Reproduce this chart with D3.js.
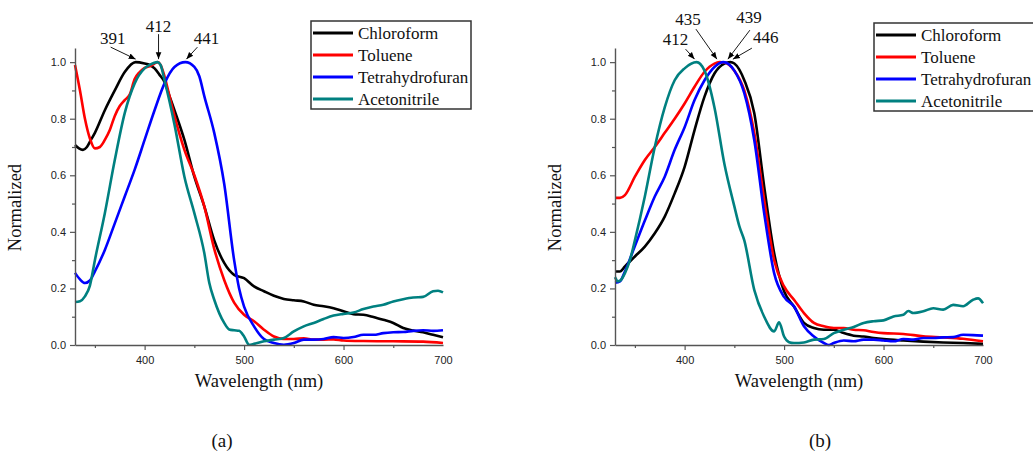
<!DOCTYPE html>
<html lang="en">
<head>
  <meta charset="UTF-8">
  <title>Normalized spectra</title>
  <script src="https://d3js.org/d3.v7.min.js"></script>
  <style>
    body {
      margin: 0;
      background-color: #ffffff;
    }
    svg {
      display: block;
    }
    .tick-label {
      font-family: "Liberation Sans", Arial, sans-serif;
      font-size: 11px;
      fill: #222;
    }
    .serif {
      font-family: "Liberation Serif", "Times New Roman", serif;
      fill: #111;
    }
  </style>
</head>
<body>
  <div id="chart"></div>

  <script>
    // series names + colours
    const seriesNames = ['Chloroform', 'Toluene', 'Tetrahydrofuran', 'Acetonitrile'];
    const seriesColors = ['#000000', '#ff0000', '#0000ff', '#008080'];

    const xTicks = [400, 500, 600, 700];
    const xMinorTicks = [350, 450, 550, 650];
    const yTicks = [0, 0.2, 0.4, 0.6, 0.8, 1.0];
    const yMinorTicks = [0.1, 0.3, 0.5, 0.7, 0.9];

    // panel (a) - [wavelength, normalized]
    const chloroformA = [[330,0.707],[334,0.695],[338,0.69],[342,0.7],[346,0.725],[350,0.75],[360,0.83],[370,0.9],[380,0.965],[391,1.0],[400,0.995],[405,0.99],[410,0.978],[415,0.955],[420,0.93],[425,0.88],[430,0.83],[440,0.725],[450,0.595],[460,0.49],[470,0.37],[480,0.29],[490,0.248],[500,0.236],[510,0.207],[520,0.19],[530,0.174],[540,0.163],[550,0.158],[560,0.154],[570,0.142],[580,0.137],[590,0.13],[600,0.119],[610,0.109],[620,0.107],[630,0.099],[640,0.089],[650,0.078],[660,0.06],[670,0.051],[680,0.045],[690,0.036],[700,0.027]];
    const tolueneA = [[330,0.99],[335,0.9],[340,0.8],[345,0.73],[350,0.695],[355,0.7],[360,0.725],[365,0.76],[370,0.81],[375,0.845],[380,0.866],[385,0.885],[390,0.94],[395,0.965],[400,0.98],[405,0.985],[410,0.995],[413,1.0],[416,0.99],[420,0.95],[425,0.88],[430,0.81],[440,0.69],[450,0.6],[460,0.49],[470,0.34],[480,0.23],[490,0.15],[500,0.107],[510,0.084],[520,0.054],[530,0.03],[540,0.021],[550,0.021],[560,0.024],[570,0.019],[580,0.019],[590,0.02],[600,0.016],[620,0.014],[650,0.013],[680,0.012],[700,0.007]];
    const thfA = [[330,0.255],[335,0.232],[340,0.219],[345,0.228],[350,0.26],[360,0.336],[370,0.43],[380,0.525],[390,0.62],[400,0.725],[410,0.83],[420,0.925],[430,0.983],[441,1.0],[450,0.983],[455,0.95],[460,0.88],[470,0.75],[480,0.57],[490,0.3],[495,0.2],[500,0.136],[510,0.066],[520,0.021],[530,0.007],[540,0.001],[550,0.007],[560,0.019],[570,0.019],[580,0.021],[590,0.028],[600,0.025],[610,0.028],[620,0.036],[630,0.036],[640,0.042],[650,0.045],[660,0.046],[670,0.05],[680,0.052],[690,0.05],[700,0.052]];
    const acnA = [[330,0.152],[335,0.155],[340,0.172],[345,0.21],[350,0.3],[360,0.466],[370,0.654],[380,0.82],[390,0.925],[400,0.978],[405,0.99],[413,1.0],[416,0.99],[420,0.936],[430,0.78],[440,0.595],[450,0.466],[460,0.325],[465,0.22],[470,0.16],[480,0.078],[485,0.055],[490,0.052],[495,0.05],[500,0.03],[505,0.001],[510,0.004],[520,0.013],[530,0.019],[540,0.025],[550,0.048],[560,0.066],[570,0.078],[580,0.092],[590,0.104],[600,0.11],[610,0.115],[620,0.127],[630,0.136],[640,0.142],[650,0.154],[660,0.162],[670,0.168],[680,0.17],[690,0.19],[695,0.192],[700,0.186]];

    // panel (b)
    const chloroformB = [[330,0.26],[335,0.26],[340,0.278],[350,0.313],[360,0.348],[370,0.395],[380,0.454],[390,0.536],[400,0.63],[410,0.76],[420,0.878],[430,0.96],[440,0.995],[446,1.0],[450,0.995],[460,0.936],[470,0.82],[480,0.56],[490,0.325],[500,0.19],[510,0.136],[520,0.078],[530,0.06],[540,0.054],[550,0.054],[560,0.042],[570,0.033],[580,0.03],[590,0.025],[600,0.021],[620,0.016],[640,0.012],[660,0.009],[680,0.007],[700,0.004]];
    const tolueneB = [[330,0.52],[335,0.52],[340,0.53],[350,0.595],[360,0.654],[370,0.7],[380,0.75],[390,0.8],[400,0.854],[410,0.913],[420,0.966],[430,0.995],[435,1.0],[440,0.999],[450,0.97],[460,0.9],[470,0.75],[480,0.513],[490,0.3],[500,0.207],[510,0.16],[520,0.113],[530,0.078],[540,0.066],[550,0.06],[560,0.06],[570,0.054],[580,0.052],[590,0.046],[600,0.042],[620,0.039],[640,0.031],[660,0.027],[680,0.022],[700,0.013]];
    const thfB = [[330,0.22],[335,0.225],[340,0.26],[350,0.35],[360,0.44],[370,0.525],[380,0.595],[390,0.69],[400,0.77],[410,0.866],[420,0.936],[430,0.983],[439,1.0],[450,0.97],[460,0.89],[470,0.725],[480,0.466],[490,0.254],[500,0.17],[510,0.136],[520,0.066],[530,0.03],[540,0.007],[545,0.0],[550,0.007],[560,0.016],[570,0.013],[580,0.019],[590,0.019],[600,0.016],[610,0.013],[620,0.021],[630,0.019],[640,0.025],[650,0.025],[660,0.027],[670,0.028],[680,0.036],[690,0.035],[700,0.033]];
    const acnB = [[330,0.24],[333,0.225],[336,0.23],[340,0.254],[345,0.3],[350,0.37],[360,0.525],[370,0.7],[380,0.84],[390,0.936],[400,0.978],[412,1.0],[420,0.97],[430,0.84],[440,0.64],[450,0.49],[455,0.42],[460,0.37],[470,0.195],[480,0.1],[490,0.048],[495,0.08],[500,0.03],[505,0.01],[510,0.007],[520,0.009],[530,0.019],[540,0.021],[550,0.042],[560,0.054],[570,0.064],[580,0.078],[590,0.084],[600,0.087],[610,0.101],[620,0.107],[625,0.12],[630,0.113],[640,0.119],[650,0.13],[660,0.125],[670,0.142],[680,0.137],[690,0.16],[695,0.165],[700,0.148]];

    // peak annotations: label, wavelength of arrow tip, text offset from tip (px), arrow start offset
    const peaksA = [
      { label: '391', at: 391, tx: -23, ty: -15, sx: -25, sy: -12 },
      { label: '412', at: 414, tx: 0, ty: -27, sx: 0, sy: -25 },
      { label: '441', at: 442, tx: 20, ty: -15, sx: 11, sy: -12 }
    ];
    const peaksB = [
      { label: '412', at: 410, tx: -19, ty: -14, sx: -9, sy: -10 },
      { label: '435', at: 432.5, tx: -29, ty: -34, sx: -21, sy: -30 },
      { label: '439', at: 443.5, tx: 21, ty: -36, sx: 22, sy: -29 },
      { label: '446', at: 448.5, tx: 33, ty: -16, sx: 19, sy: -11 }
    ];

    const W = 1033, H = 454;
    const svg = d3.select('#chart').append('svg')
      .attr('width', W).attr('height', H);

    svg.append('defs').append('marker')
      .attr('id', 'arrow')
      .attr('viewBox', '0 0 10 10')
      .attr('refX', 10).attr('refY', 5)
      .attr('markerWidth', 7).attr('markerHeight', 7)
      .attr('markerUnits', 'userSpaceOnUse')
      .attr('orient', 'auto')
      .append('path')
      .attr('d', 'M0,1 L10,5 L0,9 Z')
      .attr('fill', '#000');

    function drawPanel(opts) {
      const x = d3.scaleLinear().domain([330, 700]).range([opts.left, opts.left + 368]);
      const y = d3.scaleLinear().domain([0, 1.05]).range([345, 48]);
      const g = svg.append('g');

      // curves
      const line = d3.line().x(d => x(d[0])).y(d => y(d[1])).curve(d3.curveMonotoneX);
      opts.series.forEach((s, i) => {
        g.append('path')
          .datum(s)
          .attr('d', line)
          .attr('fill', 'none')
          .attr('stroke', seriesColors[i])
          .attr('stroke-width', 2.6)
          .attr('stroke-linejoin', 'round');
      });

      // axes
      const xAxis = g.append('g').attr('transform', 'translate(0,345)')
        .call(d3.axisBottom(x).tickValues(xTicks).tickSize(5).tickSizeOuter(0).tickFormat(d3.format('d')));
      xAxis.selectAll('.tick').filter(d => d === 700).select('line').remove();
      g.append('g').attr('transform', 'translate(0,345)')
        .call(d3.axisBottom(x).tickValues(xMinorTicks).tickSize(3).tickSizeOuter(0).tickFormat(''))
        .select('.domain').remove();

      const yAxis = g.append('g').attr('transform', `translate(${opts.left},0)`)
        .call(d3.axisLeft(y).tickValues(yTicks).tickSize(5).tickSizeOuter(0).tickFormat(d3.format('.1f')));
      g.append('g').attr('transform', `translate(${opts.left},0)`)
        .call(d3.axisLeft(y).tickValues(yMinorTicks).tickSize(3).tickFormat(''))
        .select('.domain').remove();

      g.selectAll('.domain').attr('stroke', '#555').attr('stroke-width', 1.4);
      g.selectAll('.tick line').attr('stroke', '#555').attr('stroke-width', 1.2);
      g.selectAll('.tick text').attr('class', 'tick-label').attr('font-size', null).attr('font-family', null);
      xAxis.selectAll('.tick text').attr('dy', '0.71em').attr('y', 11);
      yAxis.selectAll('.tick text').attr('x', -9);

      // axis titles
      g.append('text').attr('class', 'serif')
        .attr('x', opts.left + 184).attr('y', 387)
        .attr('text-anchor', 'middle').attr('font-size', 18.5)
        .text('Wavelength (nm)');
      g.append('text').attr('class', 'serif')
        .attr('transform', `translate(${opts.left - 54},${y(0.5) + 4}) rotate(-90)`)
        .attr('text-anchor', 'middle').attr('font-size', 18.5)
        .text('Normalized');

      // peak annotations
      opts.peaks.forEach(p => {
        const tipX = x(p.at), tipY = y(1.0) - 3;
        g.append('line')
          .attr('x1', tipX + p.sx).attr('y1', tipY + p.sy)
          .attr('x2', tipX).attr('y2', tipY)
          .attr('stroke', '#000').attr('stroke-width', 0.9)
          .attr('marker-end', 'url(#arrow)');
        g.append('text').attr('class', 'serif')
          .attr('x', tipX + p.tx).attr('y', tipY + p.ty)
          .attr('text-anchor', 'middle').attr('font-size', 17)
          .text(p.label);
      });

      // legend
      const lg = g.append('g').attr('transform', `translate(${opts.legX},${opts.legY})`);
      lg.append('rect')
        .attr('x', 0).attr('y', 0).attr('width', 160).attr('height', 88)
        .attr('fill', '#fff').attr('stroke', '#333').attr('stroke-width', 1.5);
      seriesNames.forEach((name, i) => {
        const cy = 12 + i * 22;
        lg.append('line')
          .attr('x1', 2).attr('x2', 42).attr('y1', cy).attr('y2', cy)
          .attr('stroke', seriesColors[i]).attr('stroke-width', 3.2);
        lg.append('text').attr('class', 'serif')
          .attr('x', 47).attr('y', cy + 6)
          .attr('font-size', 17)
          .text(name);
      });

      // panel letter
      g.append('text').attr('class', 'serif')
        .attr('x', opts.left + opts.letterDx).attr('y', 447)
        .attr('text-anchor', 'middle').attr('font-size', 19)
        .text(opts.letter);
    }

    drawPanel({
      left: 75, legX: 311, legY: 21, letter: '(a)', letterDx: 147,
      series: [chloroformA, tolueneA, thfA, acnA], peaks: peaksA
    });
    drawPanel({
      left: 615, legX: 874, legY: 23, letter: '(b)', letterDx: 205,
      series: [chloroformB, tolueneB, thfB, acnB], peaks: peaksB
    });
  </script>
</body>
</html>
